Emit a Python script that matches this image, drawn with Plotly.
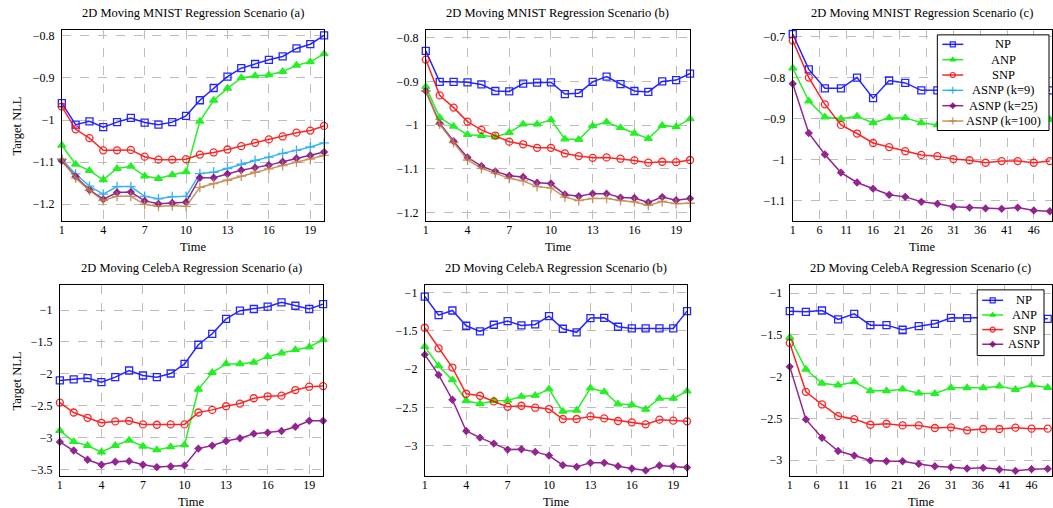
import plotly.graph_objects as go

W, H = 1053, 508
FONT = "Liberation Serif"

t20 = list(range(1, 21))
t49 = list(range(1, 50, 3))

# ---------------- MNIST (a)
ma_np = [-0.960, -1.011, -1.003, -1.017, -1.005, -0.995, -1.006, -1.011, -1.005, -0.990,
         -0.953, -0.924, -0.897, -0.877, -0.867, -0.857, -0.849, -0.830, -0.820, -0.799]
ma_anp = [-1.060, -1.105, -1.120, -1.142, -1.115, -1.110, -1.133, -1.139, -1.130, -1.123,
          -1.003, -0.953, -0.925, -0.900, -0.895, -0.893, -0.885, -0.870, -0.862, -0.843]
ma_snp = [-0.968, -1.022, -1.043, -1.072, -1.072, -1.071, -1.087, -1.094, -1.094, -1.093,
          -1.082, -1.077, -1.070, -1.062, -1.054, -1.046, -1.039, -1.030, -1.025, -1.014]
ma_k9 = [-1.094, -1.128, -1.157, -1.176, -1.158, -1.158, -1.181, -1.187, -1.182, -1.181,
         -1.127, -1.124, -1.115, -1.105, -1.096, -1.088, -1.079, -1.072, -1.064, -1.054]
ma_k25 = [-1.097, -1.134, -1.166, -1.188, -1.172, -1.171, -1.192, -1.199, -1.197, -1.195,
          -1.137, -1.137, -1.128, -1.119, -1.113, -1.107, -1.099, -1.091, -1.084, -1.076]
ma_k100 = [-1.092, -1.138, -1.167, -1.191, -1.181, -1.181, -1.200, -1.205, -1.203, -1.205,
           -1.160, -1.151, -1.143, -1.133, -1.124, -1.116, -1.108, -1.100, -1.093, -1.084]

# ---------------- MNIST (b)
mb_np = [-0.830, -0.901, -0.901, -0.902, -0.907, -0.922, -0.923, -0.905, -0.903, -0.902,
         -0.929, -0.927, -0.901, -0.889, -0.906, -0.922, -0.924, -0.900, -0.897, -0.882]
mb_anp = [-0.912, -0.983, -1.003, -1.022, -1.024, -1.027, -1.017, -0.998, -0.998, -0.988,
          -1.032, -1.033, -1.002, -0.993, -1.006, -1.019, -1.031, -1.001, -1.004, -0.986]
mb_snp = [-0.850, -0.932, -0.960, -0.992, -1.011, -1.024, -1.038, -1.044, -1.052, -1.052,
          -1.065, -1.071, -1.075, -1.074, -1.077, -1.081, -1.086, -1.084, -1.085, -1.080]
mb_k25 = [-0.922, -0.996, -1.037, -1.074, -1.094, -1.106, -1.116, -1.119, -1.132, -1.134,
          -1.159, -1.163, -1.157, -1.157, -1.166, -1.167, -1.177, -1.165, -1.172, -1.168]
mb_k100 = [-0.922, -0.998, -1.040, -1.080, -1.099, -1.110, -1.122, -1.128, -1.141, -1.144,
           -1.165, -1.173, -1.168, -1.168, -1.173, -1.176, -1.184, -1.175, -1.180, -1.179]

# ---------------- MNIST (c)
mc_np = [-0.694, -0.780, -0.826, -0.826, -0.800, -0.850, -0.807, -0.813, -0.831, -0.831,
         -0.830, -0.826, -0.830, -0.828, -0.832, -0.830, -0.831]
mc_anp = [-0.777, -0.857, -0.896, -0.900, -0.894, -0.910, -0.898, -0.898, -0.910, -0.915,
          -0.910, -0.908, -0.905, -0.907, -0.904, -0.906, -0.902]
mc_snp = [-0.710, -0.800, -0.865, -0.915, -0.936, -0.959, -0.969, -0.979, -0.988, -0.991,
          -0.998, -1.001, -1.007, -1.003, -1.003, -1.007, -1.003]
mc_k25 = [-0.815, -0.935, -0.987, -1.031, -1.055, -1.070, -1.085, -1.090, -1.102, -1.107,
          -1.114, -1.116, -1.118, -1.119, -1.116, -1.123, -1.125]

# ---------------- CelebA (a)
ca_np = [-2.104, -2.088, -2.067, -2.130, -2.052, -1.948, -2.026, -2.052, -1.995, -1.845,
         -1.544, -1.373, -1.140, -1.010, -0.984, -0.948, -0.880, -0.933, -0.984, -0.907]
ca_anp = [-2.891, -3.062, -3.124, -3.228, -3.124, -3.041, -3.135, -3.192, -3.145, -3.114,
          -2.244, -1.979, -1.845, -1.845, -1.819, -1.731, -1.674, -1.622, -1.580, -1.466]
ca_snp = [-2.451, -2.606, -2.689, -2.767, -2.746, -2.736, -2.793, -2.798, -2.793, -2.793,
          -2.606, -2.565, -2.508, -2.466, -2.383, -2.352, -2.342, -2.254, -2.202, -2.192]
ca_asnp = [-3.067, -3.202, -3.347, -3.425, -3.378, -3.368, -3.425, -3.461, -3.451, -3.435,
           -3.171, -3.124, -3.052, -3.010, -2.938, -2.922, -2.896, -2.829, -2.736, -2.736]

# ---------------- CelebA (b)
cb_np = [-1.052, -1.294, -1.234, -1.433, -1.506, -1.420, -1.372, -1.429, -1.416, -1.307,
         -1.472, -1.519, -1.333, -1.329, -1.446, -1.468, -1.468, -1.468, -1.468, -1.242]
cb_anp = [-1.706, -1.957, -2.139, -2.411, -2.450, -2.411, -2.407, -2.355, -2.342, -2.260,
          -2.550, -2.537, -2.247, -2.294, -2.455, -2.463, -2.524, -2.381, -2.381, -2.286]
cb_snp = [-1.459, -1.727, -1.978, -2.320, -2.346, -2.420, -2.489, -2.476, -2.502, -2.519,
          -2.649, -2.649, -2.615, -2.641, -2.675, -2.693, -2.719, -2.658, -2.671, -2.680]
cb_asnp = [-1.810, -2.074, -2.398, -2.805, -2.892, -2.970, -3.048, -3.043, -3.078, -3.126,
           -3.251, -3.273, -3.221, -3.221, -3.264, -3.294, -3.320, -3.255, -3.264, -3.281]

# ---------------- CelebA (c)
cc_np = [-1.215, -1.223, -1.207, -1.314, -1.247, -1.382, -1.382, -1.437, -1.394, -1.366,
         -1.294, -1.298, -1.290, -1.300, -1.285, -1.300, -1.306]
cc_anp = [-1.529, -1.911, -2.078, -2.101, -2.062, -2.169, -2.169, -2.149, -2.197, -2.201,
          -2.133, -2.133, -2.133, -2.113, -2.153, -2.101, -2.129]
cc_snp = [-1.596, -2.181, -2.332, -2.471, -2.507, -2.575, -2.563, -2.583, -2.583, -2.614,
          -2.606, -2.642, -2.626, -2.626, -2.610, -2.622, -2.622]
cc_asnp = [-1.879, -2.511, -2.730, -2.889, -2.944, -3.004, -3.012, -3.012, -3.044, -3.072,
           -3.083, -3.099, -3.091, -3.111, -3.127, -3.107, -3.103]

titles = ["2D Moving MNIST Regression Scenario (a)",
          "2D Moving MNIST Regression Scenario (b)",
          "2D Moving MNIST Regression Scenario (c)",
          "2D Moving CelebA Regression Scenario (a)",
          "2D Moving CelebA Regression Scenario (b)",
          "2D Moving CelebA Regression Scenario (c)"]

xt20 = [1, 4, 7, 10, 13, 16, 19]
xt49 = [1, 6, 11, 16, 21, 26, 31, 36, 41, 46]
yt_m = [-1.2, -1.1, -1.0, -0.9, -0.8]
yt_mc = [-1.1, -1.0, -0.9, -0.8, -0.7]
yt_ca = [-3.5, -3.0, -2.5, -2.0, -1.5, -1.0]
yt_c = [-3.0, -2.5, -2.0, -1.5, -1.0]

legend_mnist = ["NP", "ANP", "SNP", "ASNP (k=9)", "ASNP (k=25)", "ASNP (k=100)"]
legend_celeba = ["NP", "ANP", "SNP", "ASNP"]

STY = {
    "NP": dict(color="#0000FF", symbol="square-open", size=7),
    "ANP": dict(color="#00EE00", symbol="triangle-up", size=7),
    "SNP": dict(color="#FF0000", symbol="circle-open", size=7),
    "ASNP (k=9)": dict(color="#16A8F0", symbol="cross-thin", size=7),
    "ASNP (k=25)": dict(color="#800080", symbol="diamond", size=5),
    "ASNP (k=100)": dict(color="#BF8040", symbol="cross-thin", size=7),
    "ASNP": dict(color="#800080", symbol="diamond", size=5),
}

# pixel boxes (left, right, top, bottom)
boxes = [(59, 322, 29, 221), (424, 689, 29, 221), (792, 1052, 29, 221),
         (57, 321, 285, 477), (423, 686, 285, 477), (789, 1052, 285, 477)]
xranges = [[1, 20], [1, 20], [1, 49.4], [1, 20], [1, 20], [1, 49.8]]
yranges = [[-1.24, -0.786], [-1.22, -0.782], [-1.149, -0.684],
           [-3.603, -0.606], [-3.394, -0.9], [-3.19, -0.9]]
xticks = [xt20, xt20, xt49, xt20, xt20, xt49]
yticks = [yt_m, yt_m, yt_mc, yt_ca, yt_c, yt_c]

panels = [
    (t20, [("NP", ma_np), ("ANP", ma_anp), ("SNP", ma_snp), ("ASNP (k=9)", ma_k9),
           ("ASNP (k=25)", ma_k25), ("ASNP (k=100)", ma_k100)]),
    (t20, [("NP", mb_np), ("ANP", mb_anp), ("SNP", mb_snp),
           ("ASNP (k=25)", mb_k25), ("ASNP (k=100)", mb_k100)]),
    (t49, [("NP", mc_np), ("ANP", mc_anp), ("SNP", mc_snp), ("ASNP (k=25)", mc_k25)]),
    (t20, [("NP", ca_np), ("ANP", ca_anp), ("SNP", ca_snp), ("ASNP", ca_asnp)]),
    (t20, [("NP", cb_np), ("ANP", cb_anp), ("SNP", cb_snp), ("ASNP", cb_asnp)]),
    (t49, [("NP", cc_np), ("ANP", cc_anp), ("SNP", cc_snp), ("ASNP", cc_asnp)]),
]


def fmt(v):
    return ("%g" % v).replace("-", "\u2212")


fig = go.Figure()
layout = dict(width=W, height=H, margin=dict(l=0, r=0, t=0, b=0),
              paper_bgcolor="white", plot_bgcolor="rgba(0,0,0,0)",
              font=dict(family=FONT, size=12, color="black"),
              showlegend=False, annotations=[])

for i, (xs, series) in enumerate(panels):
    n = i + 1
    xa = "x" if n == 1 else "x%d" % n
    ya = "y" if n == 1 else "y%d" % n
    for name, vals in series:
        st = STY[name]
        mk = dict(symbol=st["symbol"], size=st["size"], color=st["color"],
                  line=dict(color=st["color"], width=1.3))
        fig.add_trace(go.Scatter(x=xs[:len(vals)], y=vals, name=name, mode="lines+markers",
                                 line=dict(color=st["color"], width=1.5), marker=mk,
                                 xaxis=xa, yaxis=ya, cliponaxis=False, opacity=0.85))

    l, r, t, b = boxes[i]
    axis_common = dict(showline=True, mirror=True, linecolor="black", linewidth=1,
                       showgrid=True, gridcolor="#bdbdbd", griddash="dash", gridwidth=1,
                       zeroline=False, ticks="", tickfont=dict(family=FONT, size=12),
                       fixedrange=True)
    xkey = "xaxis" if n == 1 else "xaxis%d" % n
    ykey = "yaxis" if n == 1 else "yaxis%d" % n
    layout[xkey] = dict(axis_common, domain=[l / W, r / W], range=xranges[i],
                        anchor=ya, tickmode="array", tickvals=xticks[i],
                        ticktext=[str(v) for v in xticks[i]], ticklabelstandoff=-3)
    layout[ykey] = dict(axis_common, domain=[1 - b / H, 1 - t / H], range=yranges[i],
                        anchor=xa, tickmode="array", tickvals=yticks[i],
                        ticktext=[fmt(v) for v in yticks[i]], ticklabelstandoff=4)
    layout["annotations"].append(dict(text=titles[i], x=(l + r) / 2 / W, y=1 - (t - 17) / H,
                                      xref="paper", yref="paper", showarrow=False,
                                      xanchor="center", yanchor="middle",
                                      font=dict(family=FONT, size=12.5)))
    layout["annotations"].append(dict(text="Time", x=(l + r) / 2 / W, y=1 - (b + 26) / H,
                                      xref="paper", yref="paper", showarrow=False,
                                      xanchor="center", yanchor="middle",
                                      font=dict(family=FONT, size=12.5)))
    if i % 3 == 0:
        layout["annotations"].append(dict(text="Target NLL", x=14 / W, y=1 - (t + b) / 2 / H,
                                          xref="paper", yref="paper", showarrow=False,
                                          textangle=-90, xanchor="center", yanchor="middle",
                                          font=dict(family=FONT, size=12.5)))

# ---- hand-built legends on an overlay subplot measured in pixels (drawn above data)
layout["xaxis7"] = dict(domain=[0, 1], range=[0, W], visible=False, fixedrange=True, anchor="y7")
layout["yaxis7"] = dict(domain=[0, 1], range=[H, 0], visible=False, fixedrange=True, anchor="x7")

legend_boxes = [
    # (names, left, right, top, bottom, first row y, row step, sample x0, sample x1, text x)
    (legend_mnist, 937, 1049, 34, 130, 43.5, 15.4, 942, 963, 1003),
    (legend_celeba, 977, 1044, 290, 356, 300.5, 14.7, 982, 1003, 1024),
]
for names, L, R, T, B, y0, dy, sx0, sx1, tx in legend_boxes:
    fig.add_trace(go.Scatter(x=[L, R, R, L, L], y=[T, T, B, B, T], mode="lines",
                             fill="toself", fillcolor="white",
                             line=dict(color="black", width=1),
                             xaxis="x7", yaxis="y7", hoverinfo="skip"))
    for k, name in enumerate(names):
        st = STY[name]
        yy = y0 + k * dy
        fig.add_trace(go.Scatter(x=[sx0, sx1], y=[yy, yy], mode="lines",
                                 line=dict(color=st["color"], width=1.5), opacity=0.85,
                                 xaxis="x7", yaxis="y7", hoverinfo="skip"))
        fig.add_trace(go.Scatter(x=[(sx0 + sx1) / 2], y=[yy], mode="markers",
                                 marker=dict(symbol=st["symbol"], size=max(st["size"] - 2, 4),
                                             color=st["color"],
                                             line=dict(color=st["color"], width=1.2)),
                                 opacity=0.85, xaxis="x7", yaxis="y7", hoverinfo="skip"))
        layout["annotations"].append(dict(text=name, x=tx, y=yy, xref="x7", yref="y7",
                                          showarrow=False, xanchor="center",
                                          yanchor="middle",
                                          font=dict(family=FONT, size=12.5)))

fig.update_layout(**layout)
fig.write_html("out.html")
